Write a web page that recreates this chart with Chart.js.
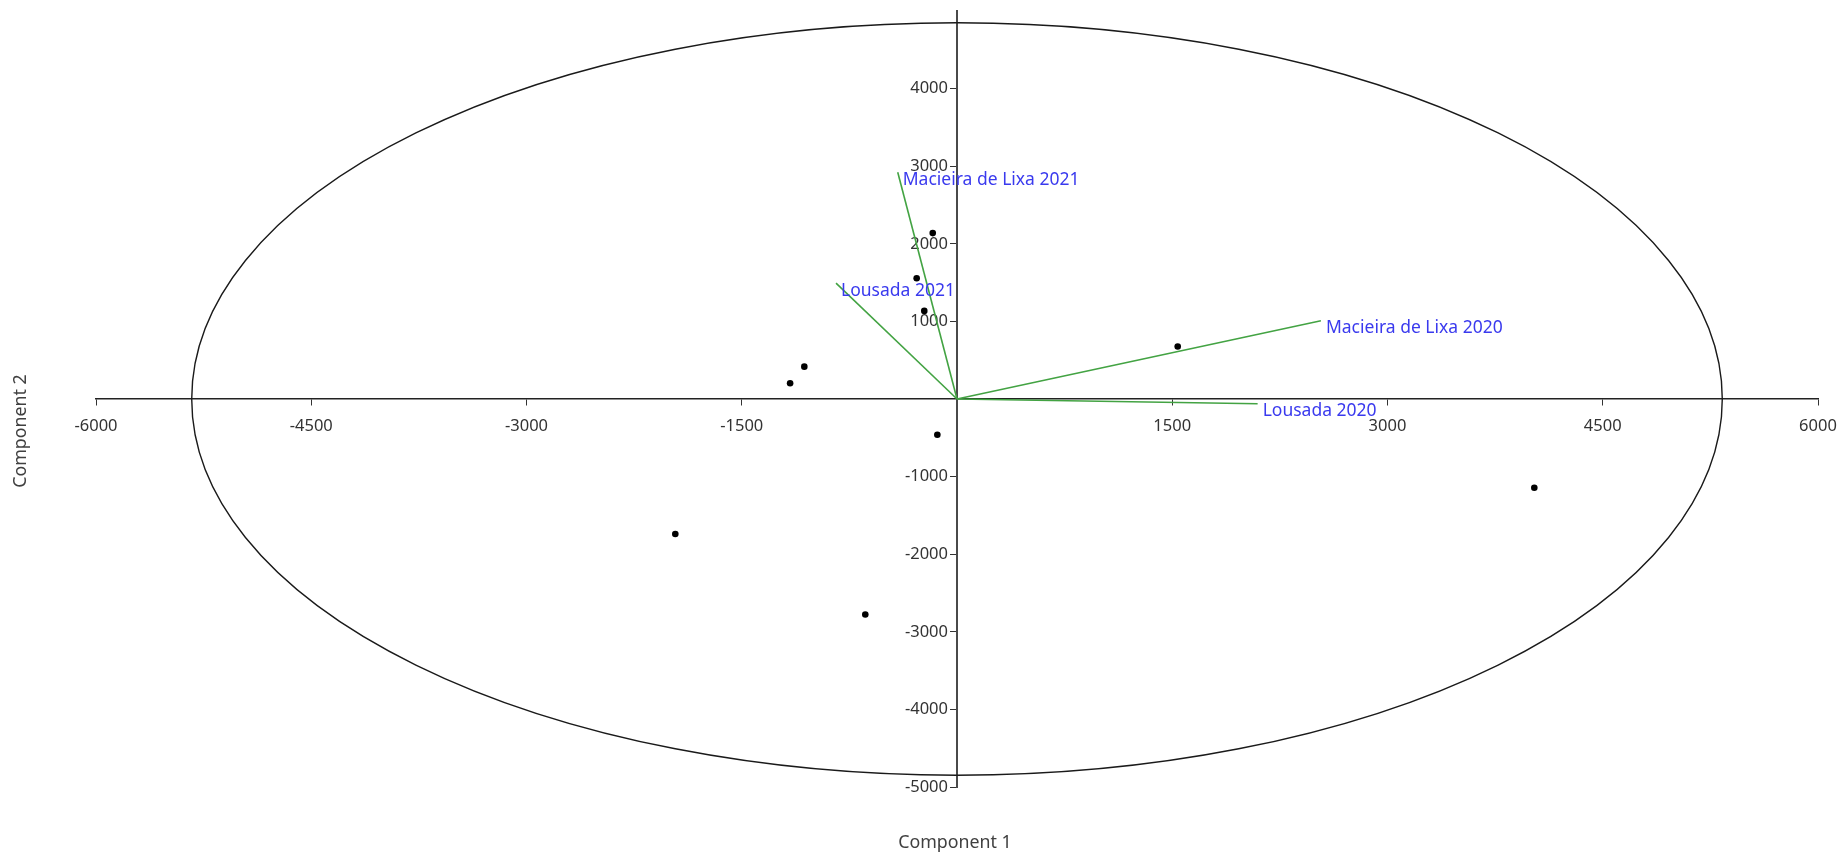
<!DOCTYPE html>
<html>
<head>
<meta charset="utf-8">
<title>PCA biplot</title>
<script src="https://cdn.jsdelivr.net/npm/chart.js@4/dist/chart.umd.min.js"></script>
<style>
  html, body { margin: 0; padding: 0; background: #fff; }
  #wrap { width: 1841px; height: 856px; }
</style>
</head>
<body>
<div id="wrap"><canvas id="biplot" width="1841" height="856"></canvas></div>
<script>
// Sample scores on the first two components
const sampleX = [-169, -281, -228, -1064, -1163, -137, 1538, -1963, -639, 4023];
const sampleY = [2138, 1557, 1135, 417, 203, -461, 677, -1739, -2777, -1143];

// Variable loadings (drawn as vectors from the origin)
const loadingNames = ['Macieira de Lixa 2021', 'Lousada 2021', 'Macieira de Lixa 2020', 'Lousada 2020'];
const loadingX = [-413, -843, 2536, 2095];
const loadingY = [2922, 1494, 1009, -62];

// Confidence ellipse semi-axes, in component units, centred on the origin
const ellipseRadiusX = 5333;
const ellipseRadiusY = 4848;

// Tick labels
const xTicks = [-6000, -4500, -3000, -1500, 1500, 3000, 4500, 6000];
const yTicks = [-5000, -4000, -3000, -2000, -1000, 1000, 2000, 3000, 4000];

const FONT = '"Noto Sans", "Open Sans", sans-serif';

const datasets = [];
loadingNames.forEach((name, i) => {
  datasets.push({
    label: name,
    data: [{x: 0, y: 0}, {x: loadingX[i], y: loadingY[i]}],
    showLine: true,
    borderColor: '#43a343',
    borderWidth: 1.6,
    pointRadius: 0,
    pointHoverRadius: 0,
    isLoading: true
  });
});
datasets.push({
  label: 'Samples',
  data: sampleX.map((x, i) => ({x, y: sampleY[i]})),
  showLine: false,
  pointRadius: 3.3,
  pointBackgroundColor: '#000',
  pointBorderWidth: 0
});

const ellipsePlugin = {
  id: 'ellipse',
  beforeDatasetsDraw(chart) {
    const {ctx, scales: {x, y}} = chart;
    const cx = x.getPixelForValue(0);
    const cy = y.getPixelForValue(0);
    const rx = x.getPixelForValue(ellipseRadiusX) - cx;
    const ry = cy - y.getPixelForValue(ellipseRadiusY);
    ctx.save();
    ctx.beginPath();
    ctx.ellipse(cx, cy, rx, ry, 0, 0, Math.PI * 2);
    ctx.strokeStyle = '#1a1a1a';
    ctx.lineWidth = 1.4;
    ctx.stroke();
    ctx.restore();
  }
};

const loadingLabels = {
  id: 'loadingLabels',
  afterDatasetsDraw(chart) {
    const {ctx} = chart;
    ctx.save();
    ctx.font = '17.5px ' + FONT;
    ctx.fillStyle = '#3a3aee';
    ctx.textAlign = 'left';
    ctx.textBaseline = 'middle';
    chart.data.datasets.forEach((ds, i) => {
      if (!ds.isLoading) return;
      const end = chart.getDatasetMeta(i).data[1];
      ctx.fillText(ds.label, end.x + 5, end.y + 7.5);
    });
    ctx.restore();
  }
};

const axisTitles = {
  id: 'axisTitles',
  afterDraw(chart) {
    const {ctx, chartArea} = chart;
    ctx.save();
    ctx.font = '17.8px ' + FONT;
    ctx.fillStyle = '#404040';
    ctx.textAlign = 'center';
    ctx.textBaseline = 'middle';
    ctx.fillText('Component 1', (chartArea.left + chartArea.right) / 2 - 2, 843);
    ctx.translate(21, chart.height / 2 + 3);
    ctx.rotate(-Math.PI / 2);
    ctx.fillText('Component 2', 0, 0);
    ctx.restore();
  }
};

// The axes cross inside the plot, so their label overhang should not shrink the plot area
const noOverhang = s => { s.paddingLeft = 0; s.paddingRight = 0; s.paddingTop = 0; s.paddingBottom = 0; };

new Chart(document.getElementById('biplot'), {
  type: 'scatter',
  data: {datasets},
  options: {
    responsive: false,
    animation: false,
    devicePixelRatio: 1,
    layout: {padding: {left: 96, right: 23, top: 11, bottom: 69}},
    plugins: {legend: {display: false}, tooltip: {enabled: false}},
    scales: {
      x: {
        type: 'linear',
        min: -6000,
        max: 6000,
        position: {y: 0},
        afterBuildTicks: s => { s.ticks = xTicks.map(v => ({value: v})); },
        afterFit: noOverhang,
        grid: {drawOnChartArea: false, drawTicks: true, tickLength: 6, tickColor: '#333', tickWidth: 1},
        border: {display: true, color: '#222', width: 1.5},
        ticks: {
          color: '#333',
          font: {family: FONT, size: 16.5},
          padding: 11,
          maxRotation: 0,
          autoSkip: false,
          callback: v => String(v)
        }
      },
      y: {
        type: 'linear',
        min: -5000,
        max: 5000,
        position: 'center',
        afterBuildTicks: s => { s.ticks = yTicks.map(v => ({value: v})); },
        afterFit: noOverhang,
        grid: {drawOnChartArea: false, drawTicks: true, tickLength: 6, tickColor: '#333', tickWidth: 1},
        border: {display: true, color: '#4a4a4a', width: 2},
        ticks: {
          color: '#333',
          font: {family: FONT, size: 16.5},
          padding: 3,
          autoSkip: false,
          callback: v => String(v)
        }
      }
    }
  },
  plugins: [ellipsePlugin, loadingLabels, axisTitles]
});
</script>
</body>
</html>
